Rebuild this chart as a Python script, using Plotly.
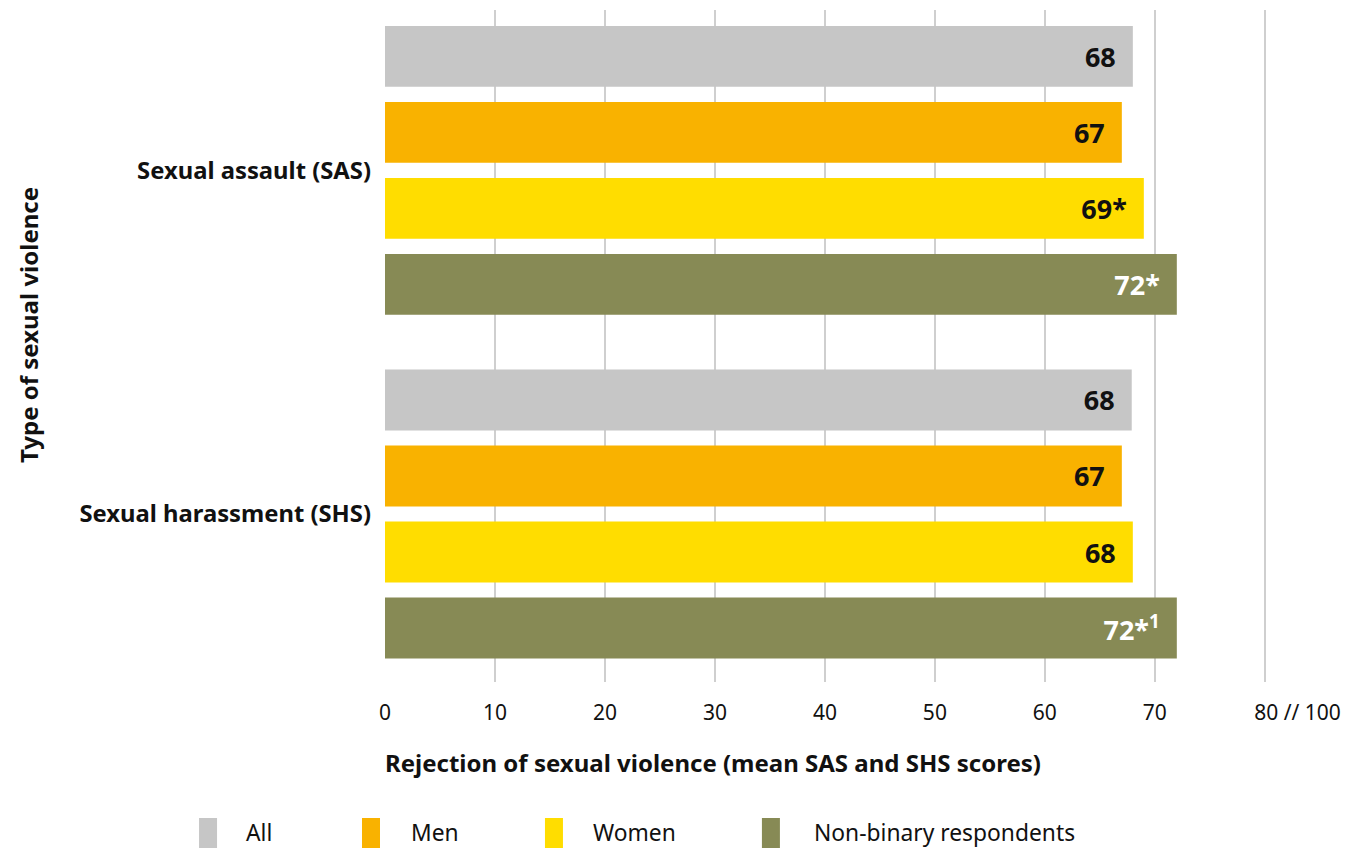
import plotly.graph_objects as go

# data
categories = ["Sexual assault (SAS)", "Sexual harassment (SHS)"]
groups = ["All", "Men", "Women", "Non-binary respondents"]
all_values = [68, 67.9]
men_values = [67, 67]
women_values = [69, 68]
nonbinary_values = [72, 72]
all_labels = ["68", "68"]
men_labels = ["67", "67"]
women_labels = ["69*", "68"]
nonbinary_labels = ["72*", "72*<sup>1</sup>"]
x_tickvals = [0, 10, 20, 30, 40, 50, 60, 70, 80]
x_ticktext = ["0", "10", "20", "30", "40", "50", "60", "70", "80 // 100"]

colors = ["#C6C6C6", "#F9B200", "#FFDD00", "#878A55"]
label_colors = ["#111111", "#111111", "#111111", "#FFFFFF"]
FONT = "Noto Sans"

# the page body adds an 8px margin, so the figure is shrunk to fit the window
OFF = 8
W, H = 1355, 848
X_MAX = 80.2
# plot area in window pixels (80 sits at x=1265)
L, T, B = 385, 10, 682
R = L + 880 * X_MAX / 80


def px_x(p):
    return (p - L) / (R - L)


def px_y(p):
    return (B - p) / (B - T)


# keep the "80" part of the last tick centred on its gridline
tick_text = [t if "//" not in t else "\u00a0" * 12 + t for t in x_ticktext]

fig = go.Figure()

series = [all_values, men_values, women_values, nonbinary_values]
labels = [all_labels, men_labels, women_labels, nonbinary_labels]
for name, vals, labs, col, lcol in zip(groups, series, labels, colors, label_colors):
    fig.add_trace(go.Bar(
        y=categories,
        x=vals,
        orientation="h",
        name=name,
        marker=dict(color=col, line=dict(width=0)),
        text=[t + "\u00a0\u00a0" for t in labs],
        textposition="inside",
        insidetextanchor="end",
        textfont=dict(family=FONT, size=27, color=lcol, weight="bold"),
        showlegend=False,
        hoverinfo="skip",
    ))

# legend drawn by hand: tall swatches with labels
legend_swatch_x = [199, 362, 545, 762]
legend_text_x = [244, 409, 591, 812]
for name, col, sx, tx in zip(groups, colors, legend_swatch_x, legend_text_x):
    fig.add_shape(
        type="rect", xref="paper", yref="paper",
        x0=px_x(sx), x1=px_x(sx + 18), y0=px_y(818), y1=px_y(849),
        fillcolor=col, line=dict(width=0),
    )
    fig.add_annotation(
        text=name, xref="paper", yref="paper",
        x=px_x(tx), y=px_y(832), xanchor="left", yanchor="middle",
        showarrow=False, font=dict(family=FONT, size=22.8, color="#111111"),
    )

# axis titles
fig.add_annotation(
    text="<b>Rejection of sexual violence (mean SAS and SHS scores)</b>",
    xref="paper", yref="paper", x=px_x(383), y=px_y(762),
    xanchor="left", yanchor="middle", showarrow=False,
    font=dict(family=FONT, size=24, color="#111111"),
)
fig.add_annotation(
    text="<b>Type of sexual violence</b>",
    xref="paper", yref="paper", x=px_x(28), y=px_y(325),
    xanchor="center", yanchor="middle", showarrow=False, textangle=-90,
    font=dict(family=FONT, size=24, color="#111111"),
)

fig.update_layout(
    width=W - OFF,
    height=H - OFF,
    margin=dict(l=L - OFF, r=W - R, t=T - OFF, b=H - B, autoexpand=False),
    paper_bgcolor="white",
    plot_bgcolor="white",
    barmode="group",
    bargap=0.115,
    bargroupgap=0.2,
    xaxis=dict(
        range=[0, X_MAX],
        tickvals=x_tickvals,
        ticktext=tick_text,
        showgrid=True,
        gridcolor="#CFCFCF",
        gridwidth=1.5,
        zeroline=False,
        showline=False,
        ticks="",
        ticklabelstandoff=16,
        tickfont=dict(family=FONT, size=21, color="#111111"),
        fixedrange=True,
    ),
    yaxis=dict(
        type="category",
        categoryorder="array",
        categoryarray=categories,
        range=[1.489, -0.467],
        showgrid=False,
        zeroline=False,
        showline=False,
        ticks="",
        ticklabelstandoff=13,
        tickfont=dict(family=FONT, size=23.8, color="#111111", weight="bold"),
        fixedrange=True,
    ),
)

fig.write_html("out.html")
